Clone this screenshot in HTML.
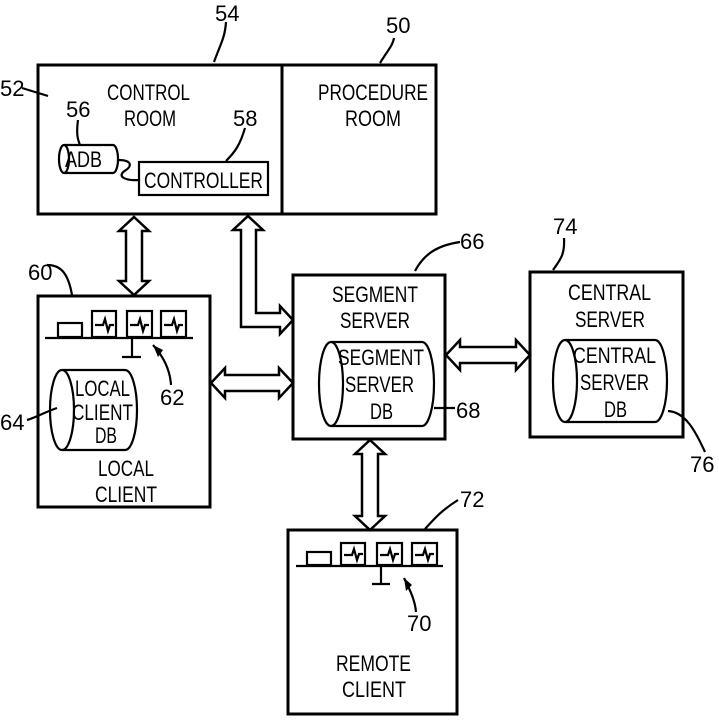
<!DOCTYPE html>
<html><head><style>body{margin:0;background:#fff}svg{display:block}text{font-family:"Liberation Sans",sans-serif;font-size:22px;fill:#000}</style></head>
<body>
<svg width="719" height="720" viewBox="0 0 719 720" xmlns="http://www.w3.org/2000/svg">
<g fill="none" stroke="#000" stroke-width="3">
<rect x="38" y="65" width="398" height="149"/>
<line x1="282" y1="64" x2="282" y2="214"/>
<rect x="38" y="296" width="172" height="211"/>
<rect x="293" y="275" width="152" height="164"/>
<rect x="530" y="272" width="153" height="165"/>
<rect x="288" y="530" width="169" height="184"/>
</g>
<g fill="#fff" stroke="#000" stroke-width="2.5" stroke-linejoin="miter">
<polygon points="134,217 149,231 142,231 142,281 149,281 134,295 119,281 126,281 126,231 119,231"/>
<polygon points="248,216 263,230 256,230 256,313 280,313 280,306 293,320 280,334 280,327 241,327 241,230 233,230"/>
<polygon points="211,383 225,368 225,375 279,375 279,368 293,383 279,398 279,391 225,391 225,398"/>
<polygon points="446,355 460,340 460,347 516,347 516,340 530,355 516,370 516,363 460,363 460,370"/>
<polygon points="370,440 385,454 378,454 378,516 385,516 370,530 355,516 362,516 362,454 355,454"/>
</g>
<g fill="none" stroke="#000" stroke-width="2.2">
<path d="M64,145 H113 A5,14 0 0 1 113,173 H64 A5,14 0 0 1 64,145 Z"/>
<path d="M64,145 A5,14 0 0 1 64,173"/>
<path d="M118,160 C132,160 132,166 126,170 C116,176 124,181 140,180"/>
<rect x="139" y="162" width="129" height="33"/>
<path d="M62,370 H125 A12,40 0 0 1 125,450 H62 A12,40 0 0 1 62,370 Z"/>
<path d="M62,370 A12,40 0 0 1 62,450"/>
<path d="M331,342 H422 A12,42 0 0 1 422,426 H331 A12,42 0 0 1 331,342 Z"/>
<path d="M331,342 A12,42 0 0 1 331,426"/>
<path d="M565,340 H655 A12,41 0 0 1 655,422 H565 A12,41 0 0 1 565,340 Z"/>
<path d="M565,340 A12,41 0 0 1 565,422"/>
<rect x="58" y="323" width="24" height="14"/>
<rect x="92" y="311" width="24" height="26"/><rect x="127" y="311" width="25" height="26"/><rect x="161" y="311" width="25" height="26"/>
<line x1="45" y1="338" x2="193" y2="338"/><line x1="132" y1="338" x2="132" y2="357"/><line x1="122" y1="357" x2="141" y2="357"/>
<path d="M95,325 h8 l2,-6 l3,12 l2,-6 h4"/><path d="M130,325 h8 l2,-6 l3,12 l2,-6 h4"/><path d="M164,325 h8 l2,-6 l3,12 l2,-6 h4"/>
<rect x="307" y="552" width="24" height="13"/>
<rect x="341" y="543" width="24" height="22"/><rect x="377" y="543" width="25" height="22"/><rect x="412" y="543" width="25" height="22"/>
<line x1="296" y1="566" x2="443" y2="566"/><line x1="381" y1="566" x2="381" y2="584"/><line x1="372" y1="584" x2="390" y2="584"/>
<path d="M344,555 h8 l2,-6 l3,11 l2,-6 h4"/><path d="M380,555 h8 l2,-6 l3,11 l2,-6 h4"/><path d="M415,555 h8 l2,-6 l3,11 l2,-6 h4"/>
<path d="M214,62 C220,45 225,38 226,22"/>
<path d="M380,63 C388,50 393,45 394,38"/>
<path d="M22,88 L48,96"/>
<path d="M78,120 C76,135 78,140 80,145"/>
<path d="M245,128 C240,145 235,152 226,161"/>
<path d="M47,265 C60,265 68,272 72,295"/>
<path d="M153,345 C162,355 170,368 171,385"/>
<path d="M27,420 C35,418 45,412 57,408"/>
<path d="M415,271 C425,252 440,245 460,242"/>
<path d="M434,408 L455,408"/>
<path d="M553,270 C560,260 565,255 564,238"/>
<path d="M668,411 C685,412 695,430 705,452"/>
<path d="M425,529 C435,518 442,510 458,500"/>
<path d="M404,578 C410,590 415,600 416,612"/>
</g>
<g fill="#000">
<polygon points="153,345 158,357 163,350"/>
<polygon points="404,578 406,591 412,585"/>
</g>
<g lengthAdjust="spacingAndGlyphs">
<text x="107" y="100" textLength="83" lengthAdjust="spacingAndGlyphs">CONTROL</text>
<text x="124" y="126" textLength="52" lengthAdjust="spacingAndGlyphs">ROOM</text>
<text x="65" y="167" font-size="19" textLength="37" lengthAdjust="spacingAndGlyphs">ADB</text>
<text x="144" y="188" textLength="119" lengthAdjust="spacingAndGlyphs">CONTROLLER</text>
<text x="318" y="100" textLength="110" lengthAdjust="spacingAndGlyphs">PROCEDURE</text>
<text x="345" y="126" textLength="56" lengthAdjust="spacingAndGlyphs">ROOM</text>
<text x="75" y="396" textLength="55" lengthAdjust="spacingAndGlyphs">LOCAL</text>
<text x="72" y="420" textLength="61" lengthAdjust="spacingAndGlyphs">CLIENT</text>
<text x="95" y="443" textLength="22" lengthAdjust="spacingAndGlyphs">DB</text>
<text x="98" y="476" textLength="56" lengthAdjust="spacingAndGlyphs">LOCAL</text>
<text x="95" y="502" textLength="62" lengthAdjust="spacingAndGlyphs">CLIENT</text>
<text x="332" y="302" textLength="86" lengthAdjust="spacingAndGlyphs">SEGMENT</text>
<text x="340" y="328" textLength="70" lengthAdjust="spacingAndGlyphs">SERVER</text>
<text x="338" y="365" textLength="86" lengthAdjust="spacingAndGlyphs">SEGMENT</text>
<text x="345" y="392" textLength="69" lengthAdjust="spacingAndGlyphs">SERVER</text>
<text x="370" y="419" textLength="23" lengthAdjust="spacingAndGlyphs">DB</text>
<text x="568" y="300" textLength="83" lengthAdjust="spacingAndGlyphs">CENTRAL</text>
<text x="575" y="327" textLength="70" lengthAdjust="spacingAndGlyphs">SERVER</text>
<text x="573" y="363" textLength="83" lengthAdjust="spacingAndGlyphs">CENTRAL</text>
<text x="580" y="390" textLength="69" lengthAdjust="spacingAndGlyphs">SERVER</text>
<text x="604" y="417" textLength="23" lengthAdjust="spacingAndGlyphs">DB</text>
<text x="336" y="671" textLength="75" lengthAdjust="spacingAndGlyphs">REMOTE</text>
<text x="342" y="697" textLength="64" lengthAdjust="spacingAndGlyphs">CLIENT</text>
</g>
<text x="215" y="21">54</text><text x="386" y="33">50</text><text x="0" y="96">52</text>
<text x="66" y="117">56</text><text x="233" y="126">58</text>
<text x="28" y="280">60</text><text x="160" y="405">62</text><text x="0" y="430">64</text>
<text x="460" y="249">66</text><text x="456" y="418">68</text>
<text x="553" y="234">74</text><text x="690" y="472">76</text>
<text x="460" y="507">72</text><text x="407" y="631">70</text>
</svg>
</body></html>
